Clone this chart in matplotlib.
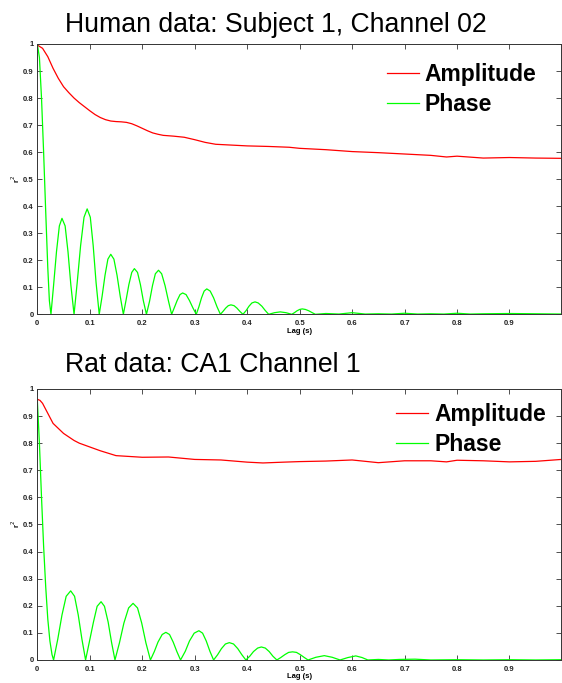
import matplotlib
matplotlib.use("Agg")
import matplotlib.pyplot as plt
from matplotlib.ticker import FuncFormatter

# --- human data (subject 1, channel 02) ---
human_amp_lag = [0, 0.01, 0.02, 0.03, 0.04, 0.05, 0.06, 0.07, 0.08, 0.09, 0.10,
                 0.11, 0.12, 0.13, 0.14, 0.15, 0.16, 0.17, 0.18, 0.19, 0.20,
                 0.21, 0.22, 0.23, 0.24, 0.26, 0.28, 0.30, 0.32, 0.34, 0.36,
                 0.38, 0.40, 0.44, 0.48, 0.50, 0.55, 0.60, 0.65, 0.70, 0.75,
                 0.78, 0.80, 0.85, 0.90, 0.95, 0.999]
human_amp = [0.996, 0.984, 0.953, 0.910, 0.873, 0.842, 0.820, 0.800, 0.783, 0.768, 0.753,
             0.739, 0.728, 0.720, 0.715, 0.713, 0.712, 0.710, 0.705, 0.697, 0.688,
             0.679, 0.671, 0.666, 0.662, 0.659, 0.655, 0.646, 0.636, 0.629, 0.627,
             0.625, 0.623, 0.621, 0.618, 0.614, 0.609, 0.602, 0.598, 0.593, 0.588,
             0.582, 0.585, 0.578, 0.580, 0.578, 0.577]

human_phase_lag = [0, 0.004, 0.008, 0.012, 0.016, 0.020, 0.023, 0.026,
                   0.031, 0.0365, 0.042, 0.047, 0.053, 0.0585, 0.064, 0.070,
                   0.076, 0.0825, 0.089, 0.095, 0.101, 0.1065, 0.112, 0.118,
                   0.1235, 0.129, 0.1345, 0.140, 0.146, 0.152, 0.158, 0.164,
                   0.169, 0.1745, 0.180, 0.185, 0.191, 0.1965, 0.202, 0.208,
                   0.214, 0.2195, 0.225, 0.231, 0.237, 0.2435, 0.250, 0.256,
                   0.261, 0.2665, 0.272, 0.277, 0.2835, 0.290, 0.2965, 0.303,
                   0.308, 0.313, 0.318, 0.323, 0.3295, 0.336, 0.3425, 0.349,
                   0.354, 0.359, 0.364, 0.369, 0.375, 0.3805, 0.386, 0.392,
                   0.398, 0.4035, 0.409, 0.415, 0.421, 0.428, 0.4345, 0.441,
                   0.452, 0.463, 0.474, 0.485,
                   0.490, 0.495, 0.500, 0.505, 0.511, 0.5175, 0.524, 0.530,
                   0.550, 0.575, 0.600, 0.625, 0.650, 0.675, 0.700, 0.725,
                   0.750, 0.775, 0.800, 0.825, 0.850, 0.900, 0.950, 0.999]
human_phase = [1.0, 0.95, 0.80, 0.60, 0.38, 0.17, 0.05, 0.0,
               0.107, 0.231, 0.327, 0.355, 0.327, 0.231, 0.107, 0.0,
               0.117, 0.254, 0.359, 0.390, 0.359, 0.254, 0.117, 0.0,
               0.067, 0.144, 0.204, 0.222, 0.204, 0.144, 0.067, 0.0,
               0.051, 0.110, 0.155, 0.169, 0.155, 0.110, 0.051, 0.0,
               0.049, 0.106, 0.150, 0.163, 0.150, 0.106, 0.049, 0.0,
               0.024, 0.051, 0.073, 0.079, 0.073, 0.051, 0.024, 0.0,
               0.028, 0.061, 0.086, 0.094, 0.086, 0.061, 0.028, 0.0,
               0.011, 0.023, 0.032, 0.035, 0.032, 0.023, 0.011, 0.0,
               0.014, 0.030, 0.042, 0.046, 0.042, 0.030, 0.014, 0.0,
               0.006, 0.009, 0.006, 0.0,
               0.006, 0.013, 0.018, 0.020, 0.018, 0.013, 0.006, 0.0,
               0.003, 0.001, 0.006, 0.001, 0.002, 0.001, 0.004, 0.001,
               0.002, 0.001, 0.004, 0.001, 0.002, 0.003, 0.002, 0.001]

# --- rat data (CA1 channel 1) ---
rat_amp_lag = [0, 0.005, 0.01, 0.02, 0.03, 0.05, 0.07, 0.08, 0.10, 0.12, 0.15,
               0.20, 0.25, 0.30, 0.35, 0.40, 0.43, 0.47, 0.50, 0.55, 0.60,
               0.65, 0.70, 0.75, 0.78, 0.80, 0.85, 0.90, 0.95, 0.999]
rat_amp = [0.962, 0.958, 0.947, 0.910, 0.873, 0.836, 0.810, 0.800, 0.786, 0.772, 0.754,
           0.748, 0.749, 0.740, 0.738, 0.730, 0.727, 0.730, 0.732, 0.734, 0.738,
           0.728, 0.735, 0.735, 0.731, 0.737, 0.735, 0.731, 0.733, 0.740]

rat_phase_lag = [0, 0.004, 0.008, 0.012, 0.016, 0.020, 0.024, 0.028, 0.031,
                 0.039, 0.047, 0.055, 0.0636, 0.071, 0.078, 0.085, 0.092,
                 0.099, 0.107, 0.114, 0.1215, 0.128, 0.135, 0.1415, 0.148,
                 0.1565, 0.165, 0.174, 0.1825, 0.191, 0.199, 0.207, 0.2156,
                 0.223, 0.230, 0.238, 0.245, 0.252, 0.259, 0.266, 0.273,
                 0.282, 0.290, 0.299, 0.308, 0.315, 0.322, 0.329, 0.336,
                 0.3435, 0.351, 0.3585, 0.366, 0.374, 0.382, 0.390, 0.3975,
                 0.405, 0.412, 0.420, 0.427, 0.4345, 0.442, 0.449, 0.4566,
                 0.464, 0.472, 0.479, 0.4865, 0.494, 0.501, 0.509, 0.516,
                 0.531, 0.547, 0.562, 0.577, 0.592, 0.607, 0.619, 0.630,
                 0.650, 0.670, 0.690, 0.720, 0.750, 0.800, 0.850, 0.900, 0.950, 0.999]
rat_phase = [0.96, 0.80, 0.60, 0.42, 0.27, 0.15, 0.07, 0.02, 0.0,
             0.077, 0.166, 0.235, 0.255, 0.235, 0.166, 0.077, 0.0,
             0.065, 0.140, 0.198, 0.215, 0.198, 0.140, 0.065, 0.0,
             0.063, 0.136, 0.192, 0.209, 0.192, 0.136, 0.063, 0.0,
             0.031, 0.066, 0.094, 0.102, 0.094, 0.066, 0.031, 0.0,
             0.032, 0.070, 0.099, 0.108, 0.099, 0.070, 0.032, 0.0,
             0.019, 0.042, 0.059, 0.064, 0.059, 0.042, 0.019, 0.0,
             0.014, 0.031, 0.044, 0.048, 0.044, 0.031, 0.014, 0.0,
             0.009, 0.020, 0.028, 0.030, 0.028, 0.020, 0.009, 0.0,
             0.010, 0.016, 0.010, 0.0, 0.009, 0.015, 0.009, 0.0,
             0.002, 0.0, 0.002, 0.003, 0.0, 0.001, 0.0, 0.001, 0.0, 0.001]

titles = ["Human data: Subject 1, Channel 02", "Rat data: CA1 Channel 1"]

fig = plt.figure(figsize=(5.62, 6.83), dpi=100)
ax_top = fig.add_axes([0.0664, 0.5398, 0.9326, 0.3958])
ax_bot = fig.add_axes([0.0664, 0.0337, 0.9326, 0.3968])

small_font = dict(fontsize=5.5, fontweight="bold", family="Liberation Sans")
fmt = FuncFormatter(lambda v, p: ("%g" % round(v, 2)))

panels = [
    (ax_top, human_amp_lag, human_amp, human_phase_lag, human_phase, 0.9536),
    (ax_bot, rat_amp_lag, rat_amp, rat_phase_lag, rat_phase, 0.4558),
]
legend_anchor = [(0.983, 0.989), (1.001, 1.007)]

for i, (ax, al, a, pl, p, ty) in enumerate(panels):
    ax.plot(al, a, color=(1, 0, 0), lw=0.9, label="Amplitude")
    ax.plot(pl, p, color=(0, 1, 0), lw=0.9, label="Phase")
    ax.set_xlim(0, 0.999)
    ax.set_ylim(0, 1)
    ax.set_xticks([0.1 * k for k in range(10)])
    ax.set_yticks([0.1 * k for k in range(11)])
    ax.xaxis.set_major_formatter(fmt)
    ax.yaxis.set_major_formatter(fmt)
    ax.tick_params(direction="in", top=True, right=True, length=3.5, width=0.6,
                   colors="#333333", labelcolor="#222222")
    ax.tick_params(axis="x", pad=4)
    ax.tick_params(axis="y", pad=2.5)
    for lab in ax.get_xticklabels() + ax.get_yticklabels():
        lab.set_fontsize(5.5)
        lab.set_fontweight("bold")
        lab.set_family("Liberation Sans")
    for s in ax.spines.values():
        s.set_linewidth(0.7)
        s.set_color("#333333")
    ax.set_xlabel("Lag (s)", labelpad=0.5, **small_font)
    ax.set_ylabel("r$^2$", labelpad=1, **small_font)
    ax.legend(loc="upper right", bbox_to_anchor=legend_anchor[i], frameon=False,
              prop=dict(family="Liberation Sans", weight="bold", size=16.5),
              handlelength=1.4, handletextpad=0.25, labelspacing=0.3,
              borderaxespad=0.3)
    fig.text(0.1157, ty, titles[i], fontsize=19.2, family="Liberation Sans",
             ha="left", va="baseline")

fig.savefig("out.png", dpi=100)
